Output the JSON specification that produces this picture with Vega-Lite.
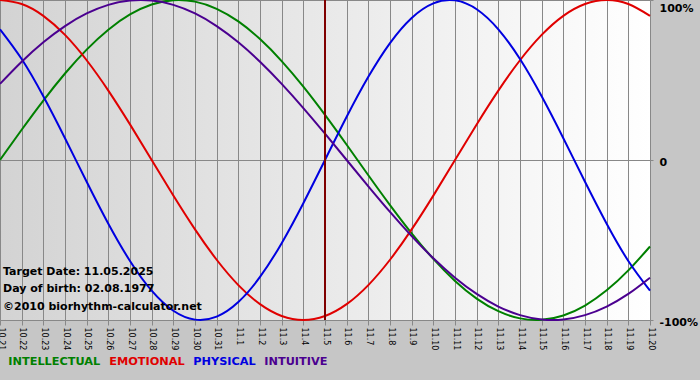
{
  "$schema": "https://vega.github.io/schema/vega-lite/v6.json",
  "width": 650,
  "height": 320,
  "autosize": {"type": "none"},
  "padding": {"left": 0, "top": 0, "right": 50, "bottom": 60},
  "background": "#c6c6c6",
  "config": {
    "font": "DejaVu Sans",
    "view": {
      "fill": {"gradient": "linear", "x1": 0, "y1": 0, "x2": 1, "y2": 0,
        "stops": [{"offset": 0, "color": "#d3d3d3"}, {"offset": 1, "color": "#ffffff"}]},
      "stroke": null
    }
  },
  "datasets": {
    "bio": [
      {"i": 1, "date": "10.21", "INTELLECTUAL": 0, "EMOTIONAL": 100, "PHYSICAL": 81.70, "INTUITIVE": 47.59},
      {"i": 2, "date": "10.22", "INTELLECTUAL": 18.93, "EMOTIONAL": 97.49, "PHYSICAL": 63.11, "INTUITIVE": 61.42},
      {"i": 3, "date": "10.23", "INTELLECTUAL": 37.17, "EMOTIONAL": 90.10, "PHYSICAL": 39.84, "INTUITIVE": 73.57},
      {"i": 4, "date": "10.24", "INTELLECTUAL": 54.06, "EMOTIONAL": 78.18, "PHYSICAL": 13.62, "INTUITIVE": 83.72},
      {"i": 5, "date": "10.25", "INTELLECTUAL": 69.01, "EMOTIONAL": 62.35, "PHYSICAL": -13.62, "INTUITIVE": 91.58},
      {"i": 6, "date": "10.26", "INTELLECTUAL": 81.46, "EMOTIONAL": 43.39, "PHYSICAL": -39.84, "INTUITIVE": 96.94},
      {"i": 7, "date": "10.27", "INTELLECTUAL": 90.96, "EMOTIONAL": 22.25, "PHYSICAL": -63.11, "INTUITIVE": 99.66},
      {"i": 8, "date": "10.28", "INTELLECTUAL": 97.18, "EMOTIONAL": 0, "PHYSICAL": -81.70, "INTUITIVE": 99.66},
      {"i": 9, "date": "10.29", "INTELLECTUAL": 99.89, "EMOTIONAL": -22.25, "PHYSICAL": -94.23, "INTUITIVE": 96.94},
      {"i": 10, "date": "10.30", "INTELLECTUAL": 98.98, "EMOTIONAL": -43.39, "PHYSICAL": -99.77, "INTUITIVE": 91.58},
      {"i": 11, "date": "10.31", "INTELLECTUAL": 94.50, "EMOTIONAL": -62.35, "PHYSICAL": -97.91, "INTUITIVE": 83.72},
      {"i": 12, "date": "11.1", "INTELLECTUAL": 86.60, "EMOTIONAL": -78.18, "PHYSICAL": -88.79, "INTUITIVE": 73.57},
      {"i": 13, "date": "11.2", "INTELLECTUAL": 75.57, "EMOTIONAL": -90.10, "PHYSICAL": -73.08, "INTUITIVE": 61.42},
      {"i": 14, "date": "11.3", "INTELLECTUAL": 61.82, "EMOTIONAL": -97.49, "PHYSICAL": -51.96, "INTUITIVE": 47.59},
      {"i": 15, "date": "11.4", "INTELLECTUAL": 45.82, "EMOTIONAL": -100, "PHYSICAL": -26.98, "INTUITIVE": 32.47},
      {"i": 16, "date": "11.5", "INTELLECTUAL": 28.17, "EMOTIONAL": -97.49, "PHYSICAL": 0, "INTUITIVE": 16.46},
      {"i": 17, "date": "11.6", "INTELLECTUAL": 9.51, "EMOTIONAL": -90.10, "PHYSICAL": 26.98, "INTUITIVE": 0},
      {"i": 18, "date": "11.7", "INTELLECTUAL": -9.51, "EMOTIONAL": -78.18, "PHYSICAL": 51.96, "INTUITIVE": -16.46},
      {"i": 19, "date": "11.8", "INTELLECTUAL": -28.17, "EMOTIONAL": -62.35, "PHYSICAL": 73.08, "INTUITIVE": -32.47},
      {"i": 20, "date": "11.9", "INTELLECTUAL": -45.82, "EMOTIONAL": -43.39, "PHYSICAL": 88.79, "INTUITIVE": -47.59},
      {"i": 21, "date": "11.10", "INTELLECTUAL": -61.82, "EMOTIONAL": -22.25, "PHYSICAL": 97.91, "INTUITIVE": -61.42},
      {"i": 22, "date": "11.11", "INTELLECTUAL": -75.57, "EMOTIONAL": 0, "PHYSICAL": 99.77, "INTUITIVE": -73.57},
      {"i": 23, "date": "11.12", "INTELLECTUAL": -86.60, "EMOTIONAL": 22.25, "PHYSICAL": 94.23, "INTUITIVE": -83.72},
      {"i": 24, "date": "11.13", "INTELLECTUAL": -94.50, "EMOTIONAL": 43.39, "PHYSICAL": 81.70, "INTUITIVE": -91.58},
      {"i": 25, "date": "11.14", "INTELLECTUAL": -98.98, "EMOTIONAL": 62.35, "PHYSICAL": 63.11, "INTUITIVE": -96.94},
      {"i": 26, "date": "11.15", "INTELLECTUAL": -99.89, "EMOTIONAL": 78.18, "PHYSICAL": 39.84, "INTUITIVE": -99.66},
      {"i": 27, "date": "11.16", "INTELLECTUAL": -97.18, "EMOTIONAL": 90.10, "PHYSICAL": 13.62, "INTUITIVE": -99.66},
      {"i": 28, "date": "11.17", "INTELLECTUAL": -90.96, "EMOTIONAL": 97.49, "PHYSICAL": -13.62, "INTUITIVE": -96.94},
      {"i": 29, "date": "11.18", "INTELLECTUAL": -81.46, "EMOTIONAL": 100, "PHYSICAL": -39.84, "INTUITIVE": -91.58},
      {"i": 30, "date": "11.19", "INTELLECTUAL": -69.01, "EMOTIONAL": 97.49, "PHYSICAL": -63.11, "INTUITIVE": -83.72},
      {"i": 31, "date": "11.20", "INTELLECTUAL": -54.06, "EMOTIONAL": 90.10, "PHYSICAL": -81.70, "INTUITIVE": -73.57}
    ],
    "target": [{"date": "11.5"}],
    "notes": [
      {"date": "10.21", "y": -70, "label": "Target Date: 11.05.2025"},
      {"date": "10.21", "y": -80.5, "label": "Day of birth: 02.08.1977"},
      {"date": "10.21", "y": -92, "label": "©2010 biorhythm-calculator.net"}
    ]
  },
  "layer": [
    {
      "data": {"name": "bio"},
      "transform": [{"fold": ["INTELLECTUAL", "EMOTIONAL", "PHYSICAL", "INTUITIVE"], "as": ["rhythm", "value"]}],
      "mark": {"type": "line", "strokeWidth": 2, "interpolate": "natural"},
      "encoding": {
        "x": {
          "field": "date", "type": "ordinal", "sort": null,
          "scale": {"type": "point", "padding": 0},
          "axis": {
            "title": null, "labelAngle": 90, "labelFontSize": 8, "labelColor": "#000000",
            "tickSize": 5, "tickColor": "#888888", "domainColor": "#888888",
            "grid": true, "gridColor": "#888888", "gridOpacity": 1, "labelPadding": 2
          }
        },
        "y": {
          "field": "value", "type": "quantitative",
          "scale": {"domain": [-100, 100], "nice": false, "zero": false},
          "axis": {
            "orient": "right", "title": null, "values": [-100, 0, 100],
            "labelExpr": "datum.value == 0 ? '0' : datum.value + '%'",
            "labelFontWeight": "bold", "labelFontSize": 11, "labelColor": "#000000",
            "labelPadding": 6, "tickSize": 3, "tickColor": "#888888",
            "domainColor": "#888888", "gridColor": "#888888", "gridOpacity": 1,
            "labelFlush": false, "labelOffset": 2,
            "labelBaseline": {"condition": {"test": "datum.value == 100", "value": "top"}, "value": "middle"}
          }
        },
        "color": {
          "field": "rhythm", "type": "nominal",
          "sort": ["INTELLECTUAL", "EMOTIONAL", "PHYSICAL", "INTUITIVE"],
          "scale": {
            "domain": ["INTELLECTUAL", "EMOTIONAL", "PHYSICAL", "INTUITIVE"],
            "range": ["#008000", "#e00000", "#0000e0", "#4b0090"]
          },
          "legend": {
            "orient": "bottom", "direction": "horizontal", "title": null,
            "symbolSize": 0, "symbolType": "circle", "symbolStrokeWidth": 0,
            "labelFontSize": 11.3, "labelFontWeight": "bold", "labelOffset": -3,
            "columnPadding": -1, "offset": 6, "padding": 0,
            "encode": {"labels": {"update": {"fill": {"scale": "color", "field": "value"}}}}
          }
        },
        "order": {"field": "i", "type": "quantitative"}
      }
    },
    {
      "data": {"name": "target"},
      "mark": {"type": "rule", "color": "#800000", "strokeWidth": 2},
      "encoding": {"x": {"field": "date", "type": "ordinal", "sort": null}}
    },
    {
      "data": {"name": "notes"},
      "mark": {"type": "text", "align": "left", "dx": 3, "fontWeight": "bold", "fontSize": 11, "baseline": "middle", "color": "#000000"},
      "encoding": {
        "x": {"field": "date", "type": "ordinal", "sort": null},
        "y": {"field": "y", "type": "quantitative"},
        "text": {"field": "label"}
      }
    }
  ]
}
